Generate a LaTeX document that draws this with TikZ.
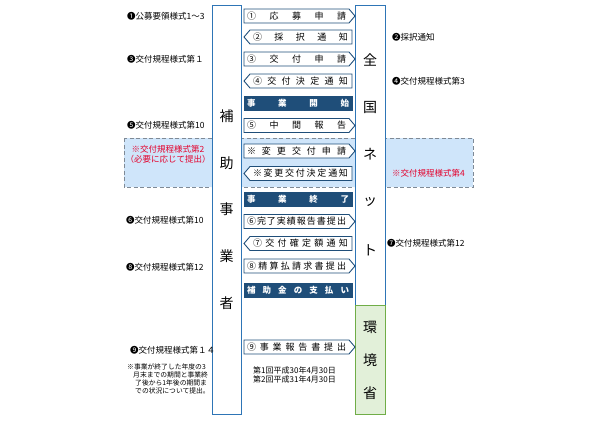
\documentclass[tikz,border=0pt]{standalone}
\usepackage{fontspec}
\setmainfont{Noto Sans CJK JP}
\definecolor{navy}{HTML}{1F4E79}
\definecolor{boxblue}{HTML}{2E75B6}
\definecolor{bandfill}{HTML}{CFE5FA}
\definecolor{bandline}{HTML}{7F8A96}
\definecolor{grnline}{HTML}{70AD47}
\definecolor{grnfill}{HTML}{E2F0D9}
\definecolor{redtxt}{HTML}{E4002B}
\newcommand\fs[1]{\fontsize{#1}{#1}\selectfont}
\newcommand\myRarr[3]{%
  \draw[arwline] (244,#1-7) -- (349,#1-7) -- (355,#1) -- (349,#1+7) -- (244,#1+7) -- cycle;
  \node[arwtext] (#2) at (296.5,#1) {\makebox[99pt]{#3}};}
\newcommand\myLarr[3]{%
  \draw[arwline] (250,#1-7) -- (352,#1-7) -- (352,#1+7) -- (250,#1+7) -- (244,#1) -- cycle;
  \node[arwtext] (#2) at (300.5,#1) {\makebox[95pt]{#3}};}
\newcommand\myDark[3]{%
  \node[darkbox] (#2) at (298,#1) {\makebox[102pt]{#3}};}
\tikzset{
  arwline/.style={draw=navy, line width=0.9pt, fill=white},
  arwtext/.style={inner sep=0pt, font=\fs{9}, text=black},
  darkbox/.style={fill=navy, draw=navy, inner sep=0pt, minimum width=108pt, minimum height=14pt, font=\fs{8.5}\bfseries, text=white},
  lbl/.style={inner sep=0pt, anchor=west, font=\fs{8.5}},
  redlbl/.style={inner sep=0pt, font=\fs{8.5}, text=redtxt},
  note/.style={inner sep=0pt, anchor=west, font=\fs{6.8}},
  big/.style={inner sep=0pt, font=\fs{14}},
  vbox/.style={draw=boxblue, line width=1.3pt, fill=white, inner sep=0pt, anchor=north west},
}
\begin{document}
\begin{tikzpicture}[x=1pt,y=-1pt]
\useasboundingbox (0,0) rectangle (595,421);
% band
\draw[fill=bandfill, draw=bandline, dashed, dash pattern=on 4pt off 2.5pt, line width=0.8pt] (124,138) rectangle (473,187);
% tall boxes
\node[vbox, minimum width=29pt, minimum height=409pt] (jigyo) at (212,5) {};
\node[vbox, minimum width=30pt, minimum height=300pt] (zenkoku) at (355,5) {};
\node[vbox, draw=grnline, fill=grnfill, minimum width=30pt, minimum height=109pt] (kankyo) at (355,305) {};
% vertical texts
\node[big] (c1) at (226.5,116) {補};
\node[big] (c2) at (226.5,163) {助};
\node[big] (c3) at (226.5,209.5) {事};
\node[big] (c4) at (226.5,256) {業};
\node[big] (c5) at (226.5,303) {者};
\node[big] (d1) at (370,60) {全};
\node[big] (d2) at (370,107) {国};
\node[big] (d3) at (370,154) {ネ};
\node[big] (d4) at (370,202) {ッ};
\node[big] (d5) at (370,250) {ト};
\node[big] (e1) at (370,327) {環};
\node[big] (e2) at (370,360) {境};
\node[big] (e3) at (370,393) {省};
% rows
\myRarr{16}{r1}{①\hfill 応\hfill 募\hfill 申\hfill 請}
\myLarr{37}{r2}{②\hfill 採\hfill 択\hfill 通\hfill 知}
\myRarr{59}{r3}{③\hfill 交\hfill 付\hfill 申\hfill 請}
\myLarr{81}{r4}{④\hfill 交\hfill 付\hfill 決\hfill 定\hfill 通\hfill 知}
\myDark{103.5}{r5}{事\hfill 業\hfill 開\hfill 始}
\myRarr{125.5}{r6}{⑤\hfill 中\hfill 間\hfill 報\hfill 告}
\myRarr{151}{r7}{※\hfill 変\hfill 更\hfill 交\hfill 付\hfill 申\hfill 請}
\myLarr{173.5}{r8}{※\hfill 変\hfill 更\hfill 交\hfill 付\hfill 決\hfill 定\hfill 通\hfill 知}
\myDark{199.5}{r9}{事\hfill 業\hfill 終\hfill 了}
\myRarr{221.5}{r10}{⑥\hfill 完\hfill 了\hfill 実\hfill 績\hfill 報\hfill 告\hfill 書\hfill 提\hfill 出}
\myLarr{243.5}{r11}{⑦\hfill 交\hfill 付\hfill 確\hfill 定\hfill 額\hfill 通\hfill 知}
\myRarr{266}{r12}{⑧\hfill 精\hfill 算\hfill 払\hfill 請\hfill 求\hfill 書\hfill 提\hfill 出}
\myDark{290}{r13}{補\hfill 助\hfill 金\hfill の\hfill 支\hfill 払\hfill い}
\myRarr{347}{r14}{⑨\hfill 事\hfill 業\hfill 報\hfill 告\hfill 書\hfill 提\hfill 出}
% dates
\node[lbl, font=\fs{8}] (dt1) at (253,370) {第1回平成30年4月30日};
\node[lbl, font=\fs{8}] (dt2) at (253,379) {第2回平成31年4月30日};
% left labels
\node[lbl] (l1) at (127,16) {❶公募要領様式1～3};
\node[lbl] (l3) at (127,59) {❸交付規程様式第１};
\node[lbl] (l5) at (127,125.5) {❺交付規程様式第10};
\node[redlbl] (l2a) at (168,149) {※交付規程様式第2};
\node[redlbl] (l2b) at (168,159) {（必要に応じて提出）};
\node[lbl] (l6) at (126,220) {❻交付規程様式第10};
\node[lbl] (l8) at (126,267) {❽交付規程様式第12};
\node[lbl] (l9) at (130,350) {❾交付規程様式第１４};
\node[note] (n1) at (127,367) {※事業が終了した年度の3};
\node[note] (n2) at (133,375) {月末までの期間と事業終};
\node[note] (n3) at (135,383) {了後から1年後の期間ま};
\node[note] (n4) at (135,391) {での状況について提出。};
% right labels
\node[lbl] (p2) at (392,37) {❷採択通知};
\node[lbl] (p4) at (392,81) {❹交付規程様式第3};
\node[redlbl, anchor=west] (p4r) at (392,173) {※交付規程様式第4};
\node[lbl] (p7) at (387,243) {❼交付規程様式第12};
\end{tikzpicture}
\end{document}
